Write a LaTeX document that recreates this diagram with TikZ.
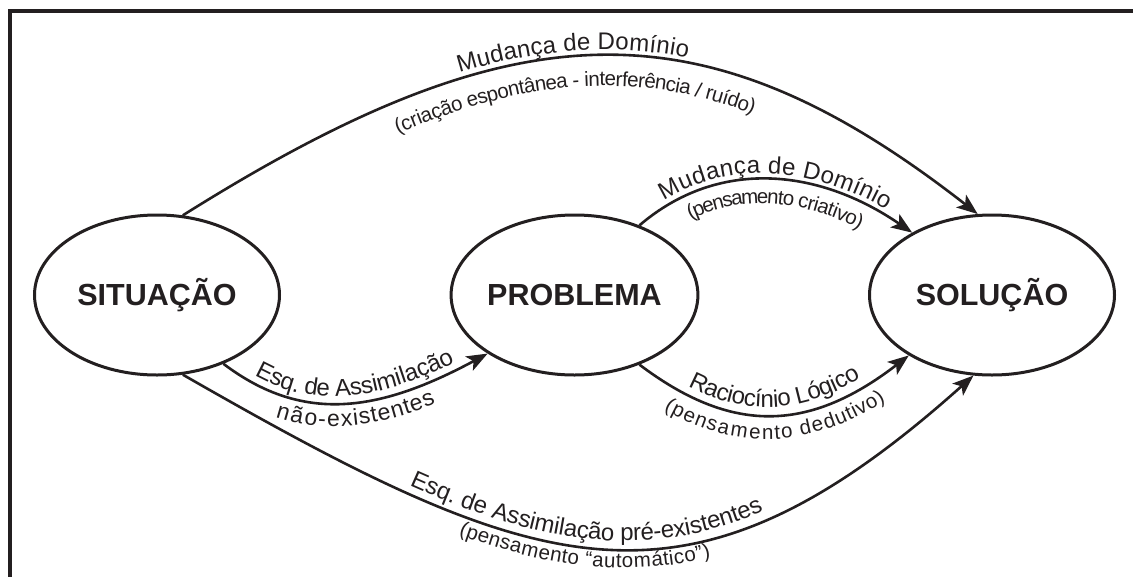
\documentclass[tikz,border=0pt]{standalone}
\usepackage{fontspec}
\setmainfont{Liberation Sans}
\usetikzlibrary{shapes.geometric,arrows.meta,decorations.text}
\definecolor{ink}{RGB}{35,31,32}
\newcommand{\lbA}{\fontsize{24pt}{24pt}\selectfont}
\newcommand{\lbB}{\fontsize{20.5pt}{20.5pt}\selectfont}
\newcommand{\lbC}{\fontsize{23pt}{23pt}\selectfont}
\tikzset{
  state/.style={ellipse, draw=ink, line width=3pt, minimum width=245pt, minimum height=160pt, inner sep=0pt,
    text=ink, font=\bfseries\fontsize{30.5pt}{30.5pt}\selectfont},
  conn/.style={draw=ink, line width=2.6pt, -{Stealth[length=21pt,width=16pt,inset=5pt]}},
  lbl/.style={decorate, decoration={text along path, text color=ink, text align=center, raise=#1}},
}
\begin{document}
\begin{tikzpicture}[x=1pt,y=-1pt]
\useasboundingbox (0,0) rectangle (1133,576);
\draw[ink, line width=4pt] (10,580) -- (10,10.5) -- (1140,10.5);

\node[state] (sit) at (157,295) {SITUAÇÃO};
\node[state] (prob) at (574.5,295) {PROBLEMA};
\node[state] (sol) at (992,295) {SOLUÇÃO};

% connectors
\draw[conn] (sit.72) .. controls (513,8) and (701,-2) .. (sol.100);
\draw[conn] (prob.47) .. controls (718,158) and (818,168) .. (sol.142);
\draw[conn] (sit.-46) .. controls (303,424) and (379,412) .. (prob.214);
\draw[conn] (prob.-47) .. controls (730,433) and (807,434) .. (sol.216);
\draw[conn] (sit.-72) .. controls (541,580) and (687,632) .. (sol.257);

% labels
\path[lbl=6pt, decoration={text align={center, right indent=20pt}, text={|\lbA|Mudança de Domínio}}]
  (sit.72) .. controls (513,8) and (701,-2) .. (sol.100);
\path[lbl=-30pt, decoration={text align={center, right indent=20pt}, text={|\lbB|(criação espontânea - interferência / ruído)}}]
  (sit.72) .. controls (513,8) and (701,-2) .. (sol.100);

\path[lbl=6pt, decoration={text={|\lbA|Mudança de Domínio}}]
  (prob.47) .. controls (718,158) and (818,168) .. (sol.142);
\path[lbl=-24pt, decoration={text={|\lbB|(pensamento criativo)}}]
  (prob.47) .. controls (718,158) and (818,168) .. (sol.142);

\path[lbl=7pt, decoration={text={|\lbA|Esq. de Assimilação}}]
  (sit.-46) .. controls (303,424) and (379,412) .. (prob.214);
\path[lbl=-23pt, decoration={text={|\lbC|não-existentes}}]
  (sit.-46) .. controls (303,424) and (379,412) .. (prob.214);

\path[lbl=8pt, decoration={text={|\lbA|Raciocínio Lógico}}]
  (prob.-47) .. controls (730,433) and (807,434) .. (sol.216);
\path[lbl=-24pt, decoration={text={|\lbB|(pensamento dedutivo)}}]
  (prob.-47) .. controls (730,433) and (807,434) .. (sol.216);

\path[lbl=8pt, decoration={text={|\lbA|Esq. de Assimilação pré-existentes}}]
  (sit.-72) .. controls (541,580) and (687,632) .. (sol.257);
\path[lbl=-19pt, decoration={text={|\lbB|(pensamento “automático”)}}]
  (sit.-72) .. controls (541,580) and (687,632) .. (sol.257);
\end{tikzpicture}
\end{document}
